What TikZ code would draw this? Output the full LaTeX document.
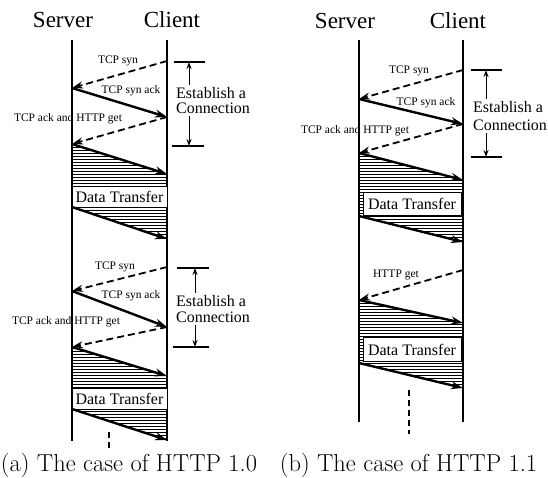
\documentclass[tikz,border=0pt]{standalone}
\usepackage{fontspec}
\newfontfamily\timesfont{Liberation Serif}
\usetikzlibrary{arrows.meta,patterns}

\def\sa{72}
\def\ca{167}
\def\sb{359}
\def\cb{463}
\tikzstyle{life}=[line width=1.6pt]
\tikzstyle{head}=[inner sep=0pt,font=\fontsize{23}{25}\timesfont]
\tikzstyle{lbl}=[inner sep=0pt,font=\fontsize{11.5}{12}\timesfont]
\tikzstyle{req}=[line width=1.8pt,dash pattern=on 7pt off 4pt,-{Stealth[length=11pt,width=7pt]}]
\tikzstyle{data}=[line width=2.4pt,-{Stealth[length=12pt,width=8pt]}]
\tikzstyle{hatch}=[pattern=horizontal lines]
\tikzstyle{box}=[draw,line width=0.6pt,fill=white,inner sep=0pt,font=\fontsize{16}{18}\timesfont]
\tikzstyle{bar}=[line width=1.5pt]
\tikzstyle{brace}=[line width=1pt,-{Stealth[length=7pt,width=5pt]}]
\tikzstyle{conn}=[align=left,anchor=west,inner sep=2pt]
\tikzstyle{more}=[line width=2.2pt,dash pattern=on 6pt off 4pt]
\tikzstyle{subcap}=[inner sep=0pt,font=\fontsize{24.5}{27}\selectfont]

\begin{document}
\begin{tikzpicture}[x=1pt,y=-1pt]
\useasboundingbox (0,0) rectangle (548,478);

% (a) HTTP 1.0
\node[head](srvA) at (63,20){Server};
\node[head](cliA) at (172,20){Client};
\coordinate (sA0) at (\sa,40); \coordinate (sA9) at (\sa,441);
\coordinate (cA0) at (\ca,40); \coordinate (cA9) at (\ca,441);
\coordinate (ca1) at (\ca,61);  \coordinate (sa1) at (\sa,88);
\coordinate (ca2) at (\ca,117); \coordinate (sa2) at (\sa,144);
\coordinate (ca3) at (\ca,174); \coordinate (sa3) at (\sa,207);
\coordinate (ca4) at (\ca,239);
\coordinate (ca5) at (\ca,267); \coordinate (sa5) at (\sa,291);
\coordinate (ca6) at (\ca,327); \coordinate (sa6) at (\sa,347);
\coordinate (ca7) at (\ca,376); \coordinate (sa7) at (\sa,409);
\coordinate (ca8) at (\ca,440);

\fill[hatch] (sa2)--(ca3)--(ca4)--(sa3)--cycle;
\fill[hatch] (sa6)--(ca7)--(ca8)--(sa7)--cycle;
\draw[life] (sA0)--(sA9);
\draw[life] (cA0)--(cA9);

\draw[req] (ca1)--(sa1);
\draw[data] (sa1)--(ca2);
\draw[req] (ca2)--(sa2);
\draw[data] (sa2)--(ca3);
\node[box,minimum width=95pt,minimum height=21pt](dtA1) at (119.5,196.5){Data Transfer};
\draw[data] (sa3)--(ca4);
\node[lbl](synA1) at (118,61){TCP syn};
\node[lbl](ackA1) at (131,91){TCP syn ack};
\node[lbl](getA1) at (68,119){TCP ack and HTTP get};

\draw[req] (ca5)--(sa5);
\draw[data] (sa5)--(ca6);
\draw[req] (ca6)--(sa6);
\draw[data] (sa6)--(ca7);
\node[box,minimum width=95pt,minimum height=21pt](dtA2) at (119.5,398.5){Data Transfer};
\draw[data] (sa7)--(ca8);
\node[lbl](synA2) at (115,267){TCP syn};
\node[lbl](ackA2) at (131,296){TCP syn ack};
\node[lbl](getA2) at (66,322){TCP ack and HTTP get};

% brackets
\coordinate (tA1l) at (174,62); \coordinate (tA1r) at (205,62);
\coordinate (bA1l) at (172,146); \coordinate (bA1r) at (204,146);
\coordinate (tA1) at (189,62); \coordinate (bA1) at (189,146);
\draw[bar] (tA1l)--(tA1r);
\draw[bar] (bA1l)--(bA1r);
\node[conn,font=\fontsize{16}{15}\timesfont](estA1) at (174,100.5){Establish a\\Connection};
\draw[brace] (estA1.north -| tA1)--(tA1);
\draw[brace] (estA1.south -| bA1)--(bA1);

\coordinate (tA2l) at (177,268); \coordinate (tA2r) at (209,268);
\coordinate (bA2l) at (173,347); \coordinate (bA2r) at (209,347);
\coordinate (tA2) at (195,268); \coordinate (bA2) at (195,347);
\draw[bar] (tA2l)--(tA2r);
\draw[bar] (bA2l)--(bA2r);
\node[conn,font=\fontsize{16}{16.5}\timesfont](estA2) at (174,309){Establish a\\Connection};
\draw[brace] (estA2.north -| tA2)--(tA2);
\draw[brace] (estA2.south -| bA2)--(bA2);

\coordinate (dotA1) at (109,432); \coordinate (dotA2) at (109,448);
\draw[more] (dotA1)--(dotA2);
\node[subcap](capA) at (129,465){(a) The case of HTTP 1.0};

% (b) HTTP 1.1
\node[head](srvB) at (345,21){Server};
\node[head](cliB) at (458,21){Client};
\coordinate (sB0) at (\sb,40); \coordinate (sB9) at (\sb,422);
\coordinate (cB0) at (\cb,40); \coordinate (cB9) at (\cb,422);
\coordinate (cb1) at (\cb,70);  \coordinate (sb1) at (\sb,99);
\coordinate (cb2) at (\cb,124); \coordinate (sb2) at (\sb,153);
\coordinate (cb3) at (\cb,180); \coordinate (sb3) at (\sb,216);
\coordinate (cb4) at (\cb,242);
\coordinate (cb5) at (\cb,270); \coordinate (sb5) at (\sb,300);
\coordinate (cb6) at (\cb,323); \coordinate (sb6) at (\sb,363);
\coordinate (cb7) at (\cb,388);

\fill[hatch] (sb2)--(cb3)--(cb4)--(sb3)--cycle;
\fill[hatch] (sb5)--(cb6)--(cb7)--(sb6)--cycle;
\draw[life] (sB0)--(sB9);
\draw[life] (cB0)--(cB9);

\draw[req] (cb1)--(sb1);
\draw[data] (sb1)--(cb2);
\draw[req] (cb2)--(sb2);
\draw[data] (sb2)--(cb3);
\node[box,minimum width=98pt,minimum height=23pt](dtB1) at (412,203.5){Data Transfer};
\draw[data] (sb3)--(cb4);
\node[lbl](synB) at (409,71){TCP syn};
\node[lbl](ackB) at (426,103){TCP syn ack};
\node[lbl](getB1) at (355,131){TCP ack and HTTP get};

\draw[req] (cb5)--(sb5);
\draw[data] (sb5)--(cb6);
\node[box,minimum width=98pt,minimum height=24pt](dtB2) at (412,349.5){Data Transfer};
\draw[data] (sb6)--(cb7);
\node[lbl](getB2) at (396,275){HTTP get};

\coordinate (tBl) at (471,70); \coordinate (tBr) at (502,70);
\coordinate (bBl) at (471,157); \coordinate (bBr) at (502,157);
\coordinate (tB) at (486,70); \coordinate (bB) at (486,157);
\draw[bar] (tBl)--(tBr);
\draw[bar] (bBl)--(bBr);
\node[conn,font=\fontsize{16}{18}\timesfont](estB) at (471,116){Establish a\\Connection};
\draw[brace] (estB.north -| tB)--(tB);
\draw[brace] (estB.south -| bB)--(bB);

\coordinate (dotB1) at (409,390); \coordinate (dotB2) at (409,434);
\draw[more] (dotB1)--(dotB2);
\node[subcap](capB) at (408.5,465){(b) The case of HTTP 1.1};
\end{tikzpicture}
\end{document}
